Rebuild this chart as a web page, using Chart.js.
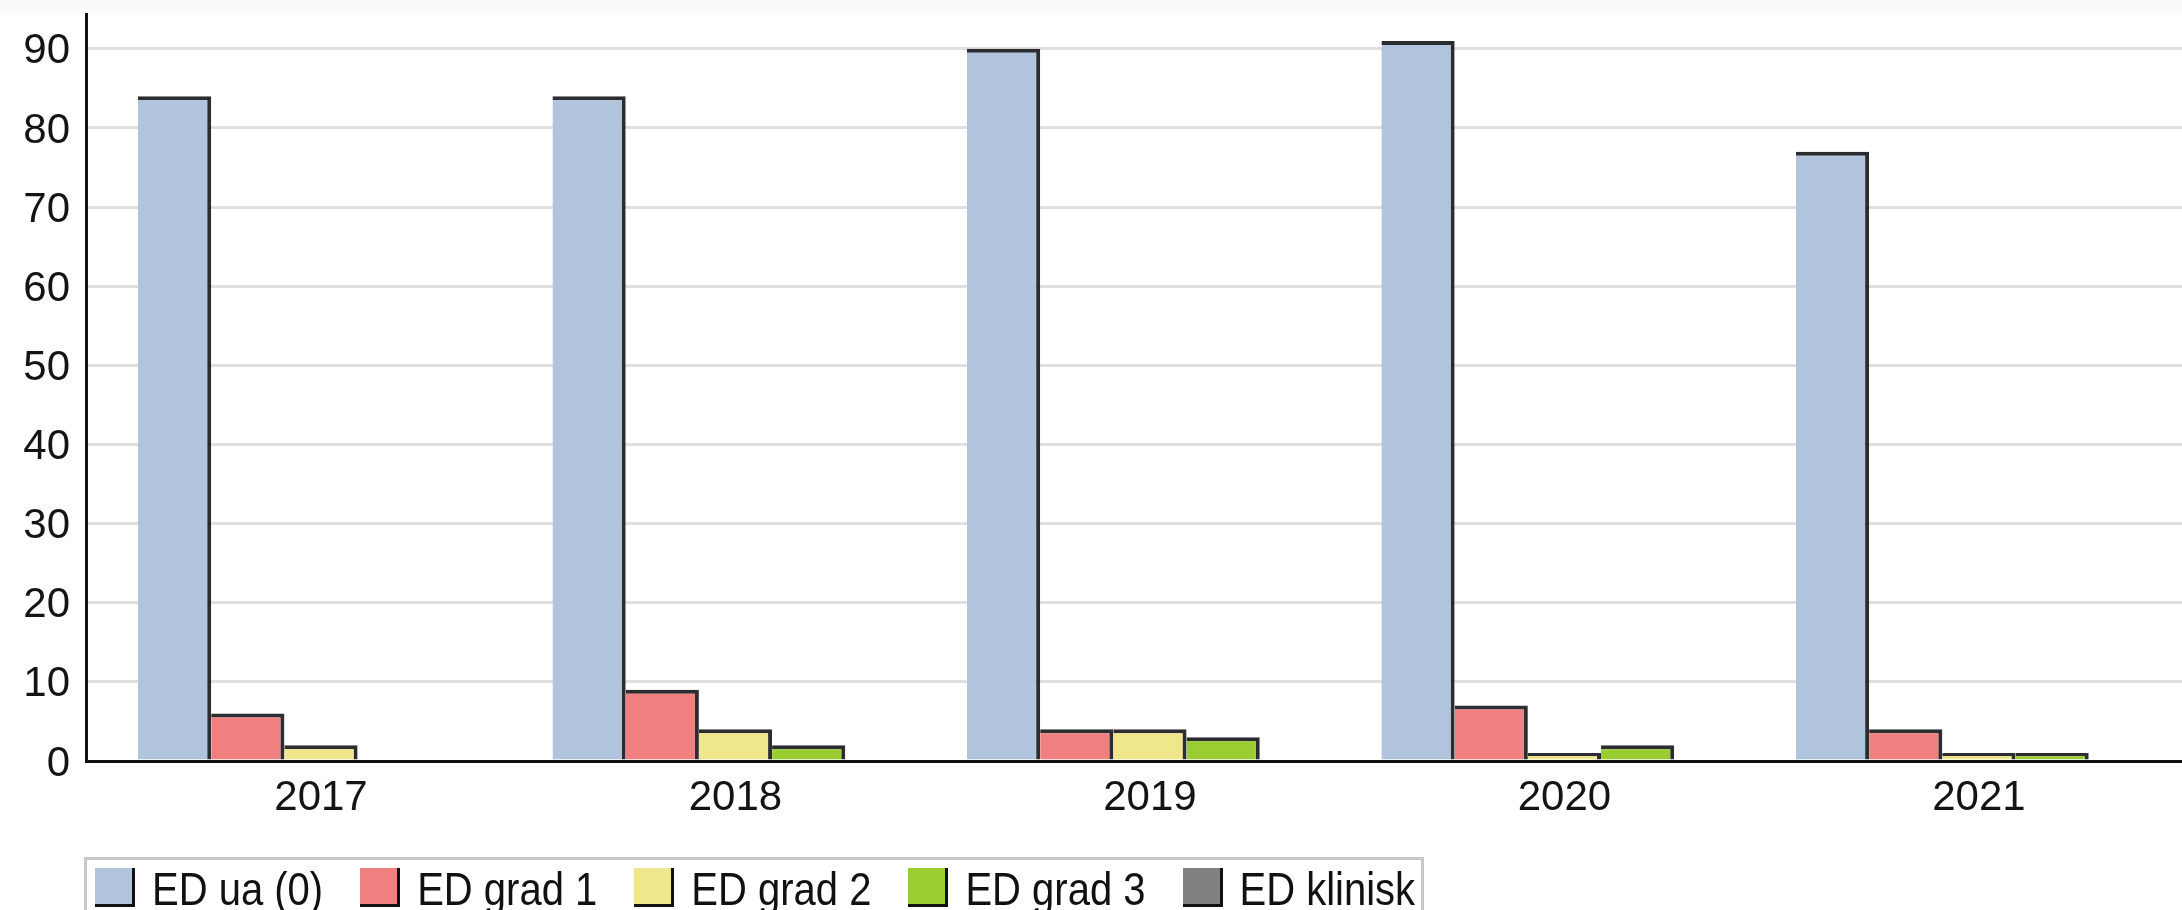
<!DOCTYPE html>
<html>
<head>
<meta charset="utf-8">
<script src="https://cdn.jsdelivr.net/npm/chart.js@4"></script>
<style>
  html, body { margin: 0; padding: 0; background: #fff; }
  #wrap { position: relative; width: 2182px; height: 910px; overflow: hidden;
          background: linear-gradient(#fafafa 0, #fafafa 13px, #fff 13px); }
  #legend {
    position: absolute; left: 84px; top: 857px; width: 1340px; height: 80px;
    border: 3px solid #c8c8c8; box-sizing: border-box;
    display: flex; align-items: flex-start; padding: 8px 0 0 8px;
    font: 40px 'Liberation Sans', Arial, sans-serif;
    color: #111; line-height: 36px;
  }
  .item { display: flex; align-items: flex-start; margin-right: 37px; white-space: nowrap; }
  .item span.t { display: inline-block; transform: scaleY(1.14); transform-origin: 0 0; margin-top: 1px; }
  .swatch { width: 37px; height: 36px; border-right: 3px solid #111; border-bottom: 3px solid #111; margin-right: 17px; }
</style>
</head>
<body>
<div id="wrap">
  <canvas id="chart"></canvas>
  <div id="legend"></div>
</div>
<script>
// chart data
const years = [2017, 2018, 2019, 2020, 2021];
const seriesNames = ['ED ua (0)', 'ED grad 1', 'ED grad 2', 'ED grad 3', 'ED klinisk'];
const edUa = [84, 84, 90, 91, 77];
const edGrad1 = [6, 9, 4, 7, 4];
const edGrad2 = [2, 4, 4, 1, 1];
const edGrad3 = [0, 2, 3, 2, 1];
const edKlinisk = [0, 0, 0, 0, 0];
const yTicks = [0, 10, 20, 30, 40, 50, 60, 70, 80, 90];

const colors = ['#b0c4de', '#f08080', '#f0e68c', '#9acd32', '#808080'];
const series = [edUa, edGrad1, edGrad2, edGrad3, edKlinisk];

Chart.defaults.font.family = "'Liberation Sans', Arial, sans-serif";
Chart.defaults.font.size = 42;
Chart.defaults.color = '#141414';

// no extra padding from tick labels, layout is set by hand
function noPad(s) {
  s.paddingTop = 0; s.paddingBottom = 0; s.paddingLeft = 0; s.paddingRight = 0;
}

const ctx = document.getElementById('chart').getContext('2d');
const chart = new Chart(ctx, {
  type: 'bar',
  data: {
    labels: years,
    datasets: series.map((values, i) => ({
      label: seriesNames[i],
      data: values,
      backgroundColor: colors[i],
      borderColor: 'rgba(20,22,26,0.9)',
      borderWidth: { top: 4, right: 4, bottom: 0, left: 0 },
      borderSkipped: false,
      categoryPercentage: 0.883,
      barPercentage: 1.0,
    })),
  },
  options: {
    responsive: true,
    maintainAspectRatio: false,
    animation: false,
    layout: { padding: { top: 14, right: 0, bottom: 99, left: 0 } },
    plugins: { legend: { display: false }, tooltip: { enabled: false } },
    scales: {
      x: {
        type: 'linear',
        offset: false,
        min: 2016.433,
        max: 2021.49,
        afterBuildTicks: (s) => { s.ticks = years.map(v => ({ value: v })); },
        afterFit: (s) => { s.height = 50; noPad(s); },
        grid: { display: false, drawTicks: false },
        border: { display: true, color: '#111', width: 3 },
        ticks: { padding: 12, callback: (v) => String(v), maxRotation: 0, autoSkip: false },
      },
      y: {
        min: 0,
        max: 94.4,
        afterBuildTicks: (s) => { s.ticks = yTicks.map(v => ({ value: v })); },
        afterFit: (s) => { s.width = 86; noPad(s); },
        grid: { color: '#e0e0e0', lineWidth: 3, drawTicks: false },
        border: { display: true, color: '#111', width: 3 },
        ticks: { padding: 16, labelOffset: 3 },
      },
    },
  },
});

// HTML legend built from the datasets
const legend = document.getElementById('legend');
chart.data.datasets.forEach(ds => {
  const item = document.createElement('div');
  item.className = 'item';
  const sw = document.createElement('span');
  sw.className = 'swatch';
  sw.style.background = ds.backgroundColor;
  const txt = document.createElement('span');
  txt.className = 't';
  txt.textContent = ds.label;
  item.appendChild(sw);
  item.appendChild(txt);
  legend.appendChild(item);
});
</script>
</body>
</html>
